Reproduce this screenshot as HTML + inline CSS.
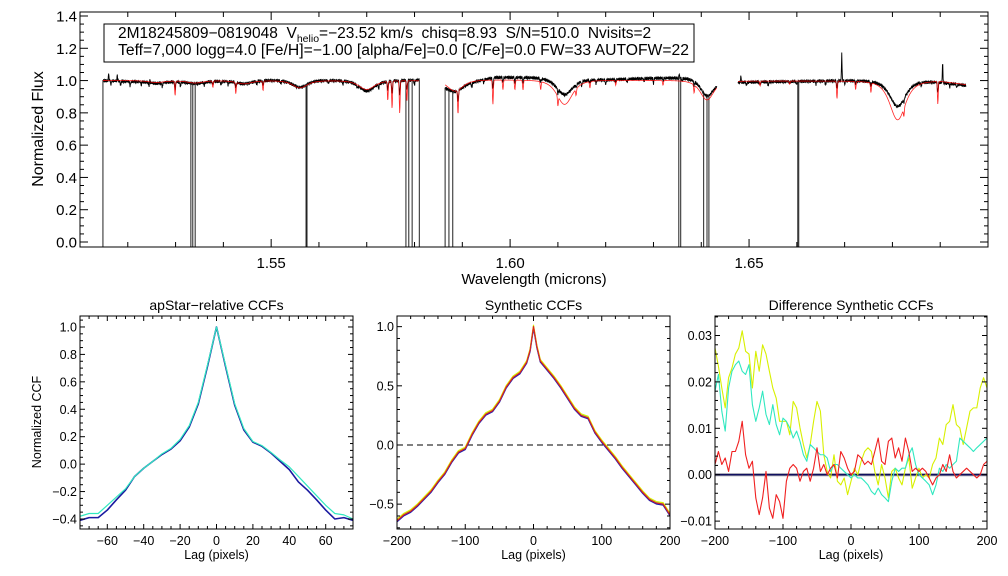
<!DOCTYPE html>
<html><head><meta charset="utf-8"><style>
html,body{margin:0;padding:0;background:#fff}
svg{display:block;font-family:"Liberation Sans",sans-serif}
.pre{white-space:pre}
</style></head><body>
<svg id="c" xmlns="http://www.w3.org/2000/svg" width="1008" height="576" viewBox="0 0 1008 576">
<rect x="0" y="0" width="1008" height="576" fill="#fff"/>
<g id="top"></g>
<g id="p1"></g>
<g id="p2"></g>
<g id="p3"></g>
</svg>
<script>
// ---------- Spectrum data ----------
const chipRanges = [[1.5148,1.5810],[1.5864,1.6433],[1.6477,1.6954]];
const contObs = [[1.5148,1.0],[1.52,0.995],[1.53,0.995],[1.54,0.998],[1.55,1.003],[1.56,1.003],[1.575,1.0],[1.581,1.005],
  [1.5864,0.975],[1.592,0.995],[1.597,1.02],[1.605,1.02],[1.62,1.005],[1.63,1.015],[1.64,1.02],[1.6433,1.005],
  [1.6477,0.99],[1.66,0.995],[1.67,1.0],[1.685,1.0],[1.69,0.99],[1.6954,0.97]];
const contMod = [[1.5148,1.0],[1.581,1.0],[1.5864,1.005],[1.6433,1.0],[1.6477,0.997],[1.69,0.997],[1.6954,0.975]];
const broadLines = [[1.5260,0.012,0.012,0.003],[1.5341,0.015,0.015,0.003],[1.5443,0.02,0.02,0.003],[1.5560,0.045,0.045,0.0028],
  [1.5700,0.055,0.065,0.003],[1.5885,0.07,0.05,0.003],[1.6114,0.15,0.10,0.003],[1.6412,0.12,0.11,0.0026],[1.6811,0.24,0.16,0.003]];
const modelLines = [[1.5299,0.09],[1.5378,0.04],[1.5426,0.07],[1.5483,0.06],[1.5744,0.12],[1.5753,0.17],[1.5769,0.2],[1.5784,0.13],
  [1.5891,0.15],[1.5964,0.15],[1.5985,0.06],[1.6010,0.06],[1.6027,0.06],[1.6064,0.05],[1.6100,0.06],[1.6138,0.04],[1.6167,0.04],
  [1.6221,0.03],[1.6320,0.03],[1.6385,0.05],[1.6523,0.03],[1.6585,0.02],[1.6684,0.11],[1.6723,0.05],[1.6755,0.06],[1.6824,0.05],[1.6895,0.14]];
const obsLines = [[1.5165,0.02],[1.5185,0.025],[1.5205,0.03],[1.5228,0.02],[1.5245,0.03],[1.5272,0.025],[1.5310,0.03],[1.5360,0.02],
  [1.5395,0.025],[1.5410,0.02],[1.5470,0.02],[1.5520,0.02],[1.5620,0.02],[1.5650,0.025],[1.5680,0.02],[1.5725,0.03],[1.5800,0.03],
  [1.5920,0.03],[1.5945,0.02],[1.6150,0.03],[1.6180,0.025],[1.6200,0.03],[1.6245,0.02],[1.6280,0.02],[1.6300,0.03],[1.6360,0.02],
  [1.6495,0.02],[1.6540,0.025],[1.6600,0.02],[1.6640,0.02],[1.6660,0.025],[1.6700,0.02],[1.6860,0.02],[1.6920,0.02],[1.6935,0.02]];
const spikes = [[1.5160,0.05],[1.5178,0.04],[1.5246,0.04],[1.6483,0.04],[1.6694,0.17],[1.6905,0.13],[1.6354,0.03]];
const badPix = [1.5148,1.5332,1.5336,1.5341,1.5573,1.5575,1.5782,1.5788,1.5795,1.5810,1.5864,1.5872,1.5880,1.6353,1.6357,1.6405,1.6412,1.6416,1.6602,1.6604];
const noise = [0.3,-0.6,0.8,-0.2,-1,0.5,0.1,-0.7,0.9,-0.3,0.2,-0.9,0.6,-0.1,0.4,-0.8,0.7,-0.4,0,-0.5,1,-0.2,0.3,-0.6,-0.9,0.5,0.2,-0.3,0.8,-0.7,0.1,-1,0.6,0.4,-0.5,0.2,-0.1];

// ---------- CCF data ----------
const lag1 = [-75,-70,-65,-60,-55,-50,-45,-40,-35,-30,-25,-20,-15,-10,-5,0,5,10,15,20,25,30,35,40,45,50,55,60,65,70,75];
const ccfApNavy = [-0.41,-0.39,-0.39,-0.335,-0.26,-0.19,-0.09,-0.03,0.02,0.07,0.11,0.17,0.27,0.44,0.71,1.0,0.71,0.43,0.25,0.16,0.13,0.08,0.02,-0.04,-0.13,-0.19,-0.26,-0.335,-0.40,-0.39,-0.41];
const ccfApCyan = [-0.38,-0.36,-0.36,-0.30,-0.24,-0.18,-0.09,-0.03,0.02,0.075,0.115,0.18,0.28,0.45,0.72,1.0,0.72,0.44,0.26,0.165,0.135,0.085,0.03,-0.02,-0.09,-0.16,-0.23,-0.30,-0.36,-0.37,-0.40];
const lag2 = [-200,-190,-180,-170,-160,-150,-140,-130,-120,-110,-100,-90,-80,-70,-60,-50,-40,-30,-20,-10,-5,0,5,10,20,30,40,50,60,70,80,90,100,110,120,130,140,150,160,170,180,190,200];
const ccfSyn = [-0.64,-0.59,-0.56,-0.51,-0.45,-0.39,-0.31,-0.24,-0.14,-0.06,-0.03,0.09,0.19,0.26,0.29,0.37,0.49,0.57,0.61,0.70,0.80,1.0,0.83,0.71,0.64,0.57,0.49,0.40,0.31,0.25,0.23,0.11,0.03,-0.04,-0.11,-0.19,-0.26,-0.33,-0.40,-0.46,-0.49,-0.50,-0.59];
const lag3 = [];
for (let v=-200; v<=200; v+=5) lag3.push(v);
const diffYellow = [0.0273,0.0234,0.0187,0.0144,0.0209,0.023,0.026,0.0273,0.031,0.0266,0.026,0.0187,0.0266,0.0223,0.028,0.026,0.0223,0.0187,0.0165,0.0115,0.0115,0.0115,0.0086,0.0158,0.0144,0.0101,0.0065,0.0036,0.0065,0.0115,0.0158,0.0137,0.0043,0.0007,-0.0007,0.0043,-0.0014,-0.0022,-0.0007,-0.0043,-0.0014,0.0014,0,0.0029,0.005,0.0058,0.005,0.0007,-0.0022,0.0022,-0.0007,-0.005,0.0007,0.0014,-0.0007,-0.0022,0.0014,0.0036,-0.0029,-0.0007,0.0014,-0.0007,0,-0.0007,0.0022,0.0036,0.0079,0.0065,0.0108,0.0115,0.0151,0.0108,0.0101,0.0065,0.0101,0.0137,0.0144,0.0144,0.0187,0.0209,0.0187];
const diffCyan = [0.018,0.0216,0.0137,0.0094,0.0187,0.0223,0.0237,0.0245,0.0223,0.0216,0.0237,0.0151,0.0115,0.0144,0.018,0.013,0.0108,0.0151,0.0108,0.0086,0.0122,0.0115,0.0101,0.0079,0.0094,0.0072,0.0043,0.0029,0.0065,0.0058,0.005,0.0043,0.0043,0.0036,0.0007,0.0022,0.0022,0.0014,0.0007,0,-0.0007,0,-0.0007,-0.0007,-0.0014,-0.0022,-0.0036,-0.0043,-0.0029,-0.0043,-0.005,-0.0058,-0.0014,0.0014,0.0007,0.0014,0.0014,0.0043,0.0058,0.0022,0,-0.0007,-0.0014,-0.0022,-0.0043,-0.0022,0.0014,0.0007,0.0022,0.0014,0.0022,0.0029,0.0079,0.0072,0.0065,0.0058,0.005,0.0058,0.0065,0.0072,0.0079];
const diffRed = [0.0022,0.005,0.0022,0.0036,0.0007,0.005,0.005,0.0072,0.0115,0.0043,0.0014,0.0029,-0.005,-0.0086,-0.005,0.0007,-0.0072,-0.0094,-0.0043,-0.0058,-0.0094,-0.0014,0.0014,0.0022,0.0014,-0.0014,0.0007,0.0014,-0.0014,0.0014,0.0058,0.0007,0.0022,0,0.0014,0.0022,-0.0007,0.005,0.0036,0.0014,0,0.0007,0.0043,0.0036,0.0022,0.0029,0.0022,0.005,0.0079,0.0029,0.0022,0.0072,0.0079,0.0036,0.0058,0.0029,0.0079,0.005,0.0007,0.0014,0.0007,0.0014,0.0007,-0.0007,-0.0022,-0.0007,0,0.0022,0.0007,0.0043,0.0007,-0.0007,0,0.0007,0.0014,0.0007,0,-0.0007,0,0.0022,0.0029];
const specYTicks = ["0.0","0.2","0.4","0.6","0.8","1.0","1.2","1.4"];
const specXTicks = ["1.55","1.60","1.65"];

const NS="http://www.w3.org/2000/svg";
function mk(parent, tag, attrs, text){const e=document.createElementNS(NS,tag);for(const k in attrs)e.setAttribute(k,attrs[k]);if(text!==undefined)e.textContent=text;parent.appendChild(e);return e;}
function lin(d0,d1,r0,r1){return v=>r0+(v-d0)*(r1-r0)/(d1-d0);}
function interp(knots,x){for(let i=0;i<knots.length-1;i++){if(x>=knots[i][0]&&x<=knots[i+1][0]){const t=(x-knots[i][0])/(knots[i+1][0]-knots[i][0]);return knots[i][1]+t*(knots[i+1][1]-knots[i][1]);}}return x<knots[0][0]?knots[0][1]:knots[knots.length-1][1];}

// ---------- Top spectrum ----------
(function(){
  const g=document.getElementById('top');
  const L=80,R=988,T=12,B=247;
  const X=lin(1.51,1.70,L,R), Y=lin(0,1.4,242,16);
  const clip=mk(g,'clipPath',{id:'clipTop'}); mk(clip,'rect',{x:L,y:T,width:R-L,height:B-T});
  function flux(w,model,idx){
    let f=interp(model?contMod:contObs,w);
    for(const b of broadLines){const d=(w-b[0])/b[3];const q=1+d*d;f-=(model?b[1]:b[2])/(q*q);}
    for(const l of modelLines){const d=(w-l[0])/0.00009;f-=(model?l[1]:l[1]*0.45)*Math.exp(-0.5*d*d);}
    if(!model){
      for(const l of obsLines){const d=(w-l[0])/0.00008;f-=l[1]*Math.exp(-0.5*d*d);}
      for(const s of spikes){const d=(w-s[0])/0.00006;f+=s[1]*Math.exp(-0.5*d*d);}
      f+=0.011*noise[idx%noise.length];
    }
    return f;
  }
  const blk=mk(g,'g',{'clip-path':'url(#clipTop)'});
  
  
  const red=mk(g,'g',{'clip-path':'url(#clipTop)'});
  
  
  chipRanges.forEach((cr,ci)=>{
    let pb='',pr='',i=0;
    for(let w=cr[0];w<=cr[1]+1e-9;w+=0.00007,i++){
      pb+=(i?'L':'M')+X(w).toFixed(2)+','+Y(flux(w,false,i)).toFixed(2);
      pr+=(i?'L':'M')+X(w).toFixed(2)+','+Y(flux(w,true,i)).toFixed(2);
    }
    const pbE=mk(blk,'path',{d:pb,fill:'none',stroke:'#000','stroke-width':0.9});
    
    
    const prE=mk(red,'path',{d:pr,fill:'none',stroke:'#f00','stroke-width':0.8,opacity:0.85});
    
    
  });
  badPix.forEach(w=>{
    const ln=mk(blk,'line',{x1:X(w),x2:X(w),y1:Y(flux(w,false,0)),y2:B,stroke:'#222','stroke-width':1});
    
    
  });
  const fr=mk(g,'rect',{x:L,y:T,width:R-L,height:B-T,fill:'none',stroke:'#000','stroke-width':1});
   
  for(let k=0;k<=29;k++){const v=k*0.05;const y=Y(v);if(y<T||y>B)continue;const maj=(k%4===0);const len=maj?8:4;
    mk(g,'line',{x1:L,x2:L+len,y1:y,y2:y,stroke:'#000'});mk(g,'line',{x1:R,x2:R-len,y1:y,y2:y,stroke:'#000'});}
  specYTicks.forEach(t=>{const e=mk(g,'text',{x:77,y:Y(parseFloat(t))+5.5,'text-anchor':'end','font-size':15},t);
     });
  for(let k=0;k<=19;k++){const v=1.51+k*0.01;const x=X(v);const maj=(k%5===4);const len=maj?8:5;
    mk(g,'line',{x1:x,x2:x,y1:B,y2:B-len,stroke:'#000'});mk(g,'line',{x1:x,x2:x,y1:T,y2:T+len,stroke:'#000'});}
  specXTicks.forEach(t=>{const e=mk(g,'text',{x:X(parseFloat(t)),y:268,'text-anchor':'middle','font-size':15},t);
     });
  let e=mk(g,'text',{x:534,y:284,'text-anchor':'middle','font-size':15},'Wavelength (microns)');
   
  e=mk(g,'text',{x:43,y:129,'text-anchor':'middle','font-size':16,transform:'rotate(-90 43 129)'},'Normalized Flux');
   
  const lg=mk(g,'g',{});
   
  mk(lg,'rect',{x:104,y:24,width:590,height:38,fill:'#fff',stroke:'#000','stroke-width':1});
  const t1=mk(lg,'text',{x:118,y:38,'font-size':15.5,'class':'pre'});
   
  mk(t1,'tspan',{'class':'pre'},'2M18245809\u22120819048\u00a0\u00a0V');
  mk(t1,'tspan',{'font-size':10.5,dy:4},'helio');
  mk(t1,'tspan',{dy:-4,'class':'pre'},'=\u221223.52 km/s\u00a0\u00a0chisq=8.93\u00a0\u00a0S/N=510.0\u00a0\u00a0Nvisits=2');
  const t2=mk(lg,'text',{x:118,y:55,'font-size':15.5,textLength:571,lengthAdjust:'spacingAndGlyphs'},'Teff=7,000 logg=4.0 [Fe/H]=\u22121.00 [alpha/Fe]=0.0 [C/Fe]=0.0 FW=33 AUTOFW=22');
   
})();

// ---------- bottom panels ----------
function panel(id,L,R,xr,yr,title,xMaj,xMin,yMaj,yMin,yDec,series,ylabel,extra){
  const g=document.getElementById(id);
  const T=316,B=529;
  const X=lin(xr[0],xr[1],L,R), Y=lin(yr[0],yr[1],B,T);
  const cid='clip'+id;
  const clip=mk(g,'clipPath',{id:cid}); mk(clip,'rect',{x:L,y:T,width:R-L,height:B-T});
  const pg=mk(g,'g',{'clip-path':'url(#'+cid+')'});
  if(extra) extra(pg,X,Y);
  series.forEach(s=>{
    let d='';s.x.forEach((v,i)=>{d+=(i?'L':'M')+X(v).toFixed(2)+','+Y(s.y[i]+(s.off||0)).toFixed(2);});
    const p=mk(pg,'path',{d:d,fill:'none',stroke:s.c,'stroke-width':s.w||1.2,'stroke-linejoin':'round'});
    
    
  });
  const fr=mk(g,'rect',{x:L,y:T,width:R-L,height:B-T,fill:'none',stroke:'#000','stroke-width':1});
   
  const n0=Math.ceil(xr[0]/xMin-1e-9), n1=Math.floor(xr[1]/xMin+1e-9);
  for(let k=n0;k<=n1;k++){const v=k*xMin;const x=X(v);const maj=Math.abs(v/xMaj-Math.round(v/xMaj))<1e-6;const len=maj?5:3;
    mk(g,'line',{x1:x,x2:x,y1:B,y2:B-len,stroke:'#000'});mk(g,'line',{x1:x,x2:x,y1:T,y2:T+len,stroke:'#000'});
    if(maj){const e=mk(g,'text',{x:x,y:545,'text-anchor':'middle','font-size':12.5},(v<0?'\u2212':'')+Math.abs(Math.round(v)));
       }}
  const m0=Math.ceil(yr[0]/yMin-1e-9), m1=Math.floor(yr[1]/yMin+1e-9);
  for(let k=m0;k<=m1;k++){const v=k*yMin;const y=Y(v);const maj=Math.abs(v/yMaj-Math.round(v/yMaj))<1e-6;const len=maj?5:3;
    mk(g,'line',{x1:L,x2:L+len,y1:y,y2:y,stroke:'#000'});mk(g,'line',{x1:R,x2:R-len,y1:y,y2:y,stroke:'#000'});
    if(maj){const vv=Math.round(v/yMaj)*yMaj;const s=(vv<0?'\u2212':'')+Math.abs(vv).toFixed(yDec);
      const e=mk(g,'text',{x:L-3,y:y+4.5,'text-anchor':'end','font-size':12.5},s);
       }}
  let e=mk(g,'text',{x:(L+R)/2,y:310,'text-anchor':'middle','font-size':14},title);
   
  e=mk(g,'text',{x:(L+R)/2,y:559,'text-anchor':'middle','font-size':12.5},'Lag (pixels)');
   
  if(ylabel){e=mk(g,'text',{x:41,y:422,'text-anchor':'middle','font-size':12.5,transform:'rotate(-90 41 422)'},ylabel);
     }
}
panel('p1',80,353,[-75,75],[-0.473,1.08],'apStar\u2212relative CCFs',20,5,0.2,0.05,1,
  [{x:lag1,y:ccfApNavy,c:'#1a1aa0',w:1.6,name:'ccf-navy'},{x:lag1,y:ccfApCyan,c:'#30e8c0',w:1.2,name:'ccf-cyan'}],'Normalized CCF');
panel('p2',397,670,[-200,200],[-0.71,1.09],'Synthetic CCFs',100,20,0.5,0.1,1,
  [{x:lag2,y:ccfSyn,c:'#2020b0',w:1.4,off:-0.008,name:'syn-ccf-blue'},{x:lag2,y:ccfSyn,c:'#30e8c0',w:1.2,off:0.004,name:'syn-ccf-cyan'},
   {x:lag2,y:ccfSyn,c:'#d8f000',w:1.2,off:0.012,name:'syn-ccf-yellow'},{x:lag2,y:ccfSyn,c:'#e02020',w:1.2,name:'syn-ccf-red'}],null,
  function(pg,X,Y){const l=mk(pg,'line',{x1:X(-200),x2:X(200),y1:Y(0),y2:Y(0),stroke:'#000','stroke-dasharray':'6,4','stroke-width':1});
     });
panel('p3',715,987,[-200,200],[-0.0117,0.0342],'Difference Synthetic CCFs',100,20,0.01,0.002,2,
  [{x:lag3,y:diffYellow,c:'#d8f000',w:1.1,name:'diff-yellow'},{x:lag3,y:diffCyan,c:'#30e8c0',w:1.1,name:'diff-cyan'},{x:lag3,y:diffRed,c:'#f02020',w:1.1,name:'diff-red'}],null,
  function(pg,X,Y){const l=mk(pg,'line',{x1:X(-200),x2:X(200),y1:Y(0),y2:Y(0),stroke:'#9090a0','stroke-width':3});
     
    const l2=mk(pg,'line',{x1:X(-200),x2:X(200),y1:Y(0),y2:Y(0),stroke:'#101060','stroke-width':1.4});
     });
</script>
</body></html>
